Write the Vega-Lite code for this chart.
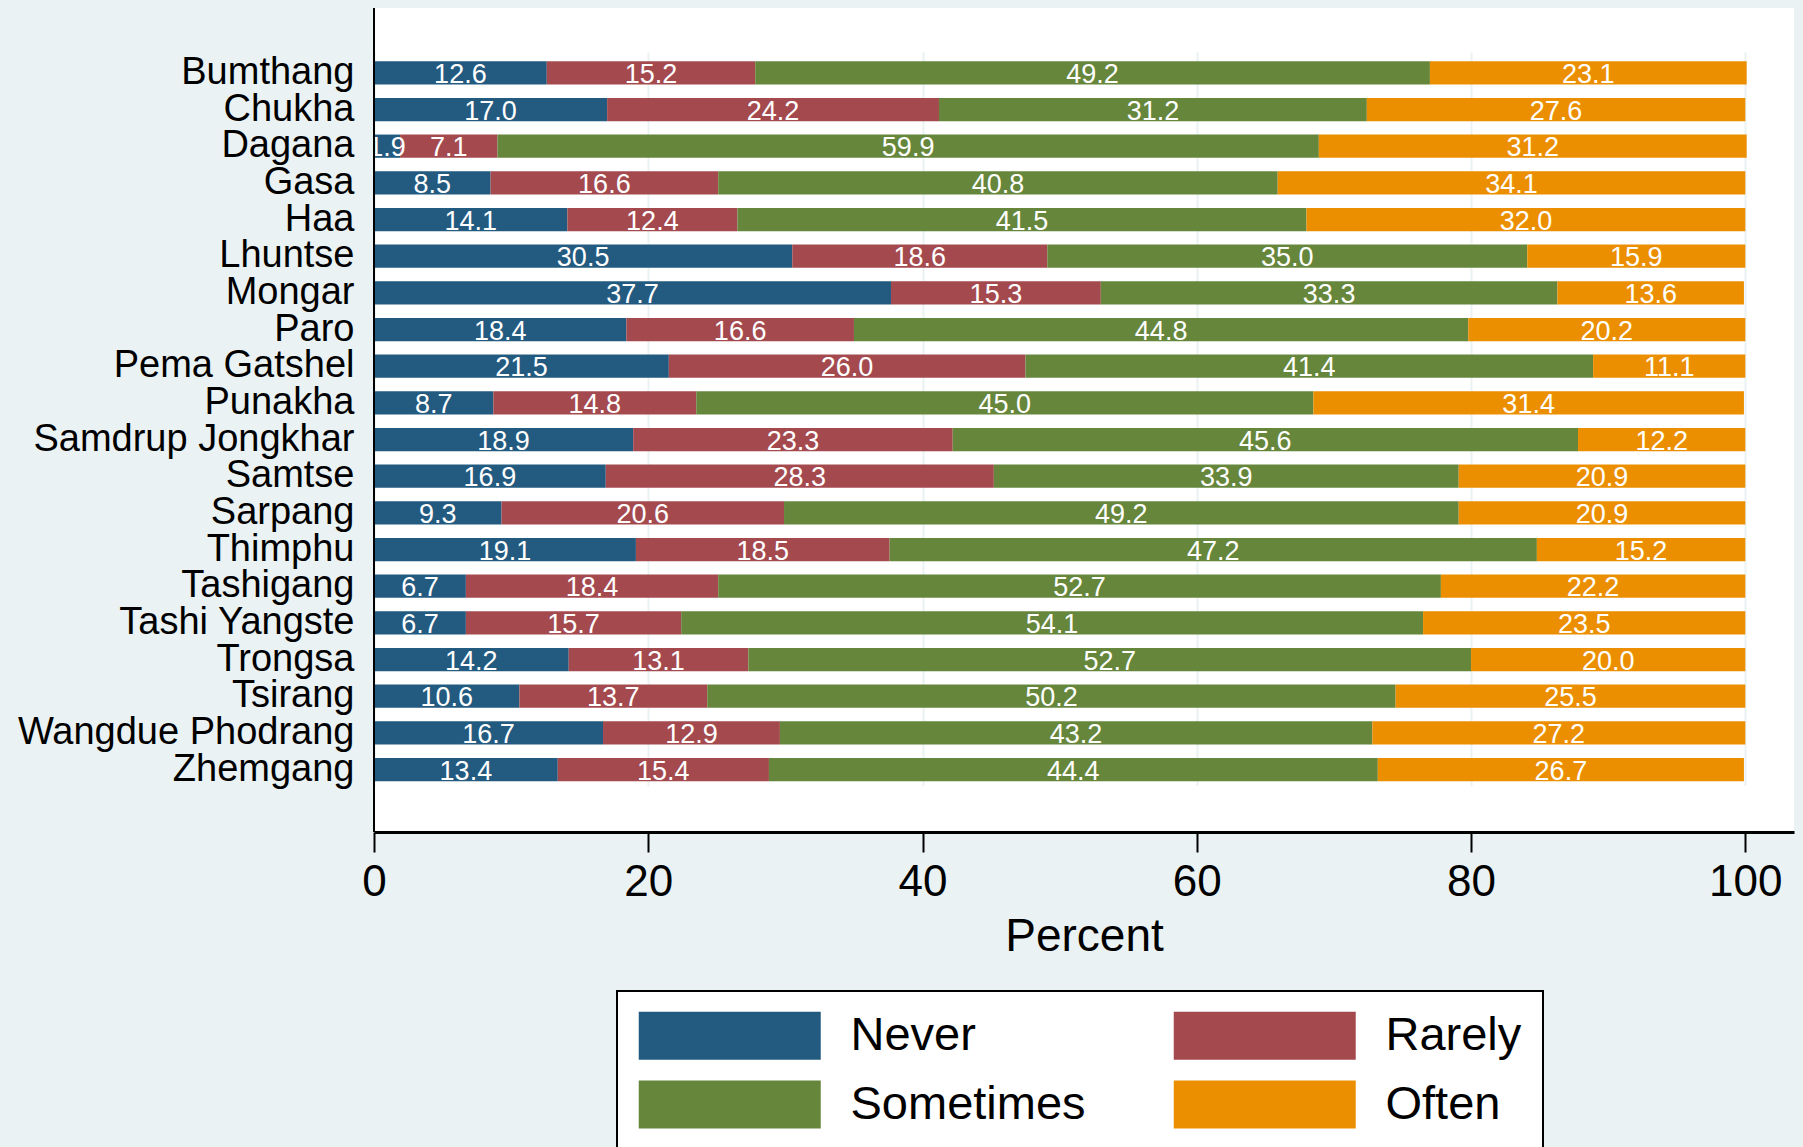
{
  "$schema": "https://vega.github.io/schema/vega-lite/v6.json",
  "autosize": {"type": "none"},
  "width": 1420,
  "height": 824,
  "padding": {"left": 374, "top": 8, "right": 9, "bottom": 315},
  "background": "#eaf2f3",
  "config": {
    "font": "Liberation Sans",
    "view": {"fill": "white", "stroke": null},
    "legend": {"strokeWidth": 2}
  },
  "data": {"values": [
    {"district": "Bumthang", "response": "Never", "value": 12.6},
    {"district": "Bumthang", "response": "Rarely", "value": 15.2},
    {"district": "Bumthang", "response": "Sometimes", "value": 49.2},
    {"district": "Bumthang", "response": "Often", "value": 23.1},
    {"district": "Chukha", "response": "Never", "value": 17.0},
    {"district": "Chukha", "response": "Rarely", "value": 24.2},
    {"district": "Chukha", "response": "Sometimes", "value": 31.2},
    {"district": "Chukha", "response": "Often", "value": 27.6},
    {"district": "Dagana", "response": "Never", "value": 1.9},
    {"district": "Dagana", "response": "Rarely", "value": 7.1},
    {"district": "Dagana", "response": "Sometimes", "value": 59.9},
    {"district": "Dagana", "response": "Often", "value": 31.2},
    {"district": "Gasa", "response": "Never", "value": 8.5},
    {"district": "Gasa", "response": "Rarely", "value": 16.6},
    {"district": "Gasa", "response": "Sometimes", "value": 40.8},
    {"district": "Gasa", "response": "Often", "value": 34.1},
    {"district": "Haa", "response": "Never", "value": 14.1},
    {"district": "Haa", "response": "Rarely", "value": 12.4},
    {"district": "Haa", "response": "Sometimes", "value": 41.5},
    {"district": "Haa", "response": "Often", "value": 32.0},
    {"district": "Lhuntse", "response": "Never", "value": 30.5},
    {"district": "Lhuntse", "response": "Rarely", "value": 18.6},
    {"district": "Lhuntse", "response": "Sometimes", "value": 35.0},
    {"district": "Lhuntse", "response": "Often", "value": 15.9},
    {"district": "Mongar", "response": "Never", "value": 37.7},
    {"district": "Mongar", "response": "Rarely", "value": 15.3},
    {"district": "Mongar", "response": "Sometimes", "value": 33.3},
    {"district": "Mongar", "response": "Often", "value": 13.6},
    {"district": "Paro", "response": "Never", "value": 18.4},
    {"district": "Paro", "response": "Rarely", "value": 16.6},
    {"district": "Paro", "response": "Sometimes", "value": 44.8},
    {"district": "Paro", "response": "Often", "value": 20.2},
    {"district": "Pema Gatshel", "response": "Never", "value": 21.5},
    {"district": "Pema Gatshel", "response": "Rarely", "value": 26.0},
    {"district": "Pema Gatshel", "response": "Sometimes", "value": 41.4},
    {"district": "Pema Gatshel", "response": "Often", "value": 11.1},
    {"district": "Punakha", "response": "Never", "value": 8.7},
    {"district": "Punakha", "response": "Rarely", "value": 14.8},
    {"district": "Punakha", "response": "Sometimes", "value": 45.0},
    {"district": "Punakha", "response": "Often", "value": 31.4},
    {"district": "Samdrup Jongkhar", "response": "Never", "value": 18.9},
    {"district": "Samdrup Jongkhar", "response": "Rarely", "value": 23.3},
    {"district": "Samdrup Jongkhar", "response": "Sometimes", "value": 45.6},
    {"district": "Samdrup Jongkhar", "response": "Often", "value": 12.2},
    {"district": "Samtse", "response": "Never", "value": 16.9},
    {"district": "Samtse", "response": "Rarely", "value": 28.3},
    {"district": "Samtse", "response": "Sometimes", "value": 33.9},
    {"district": "Samtse", "response": "Often", "value": 20.9},
    {"district": "Sarpang", "response": "Never", "value": 9.3},
    {"district": "Sarpang", "response": "Rarely", "value": 20.6},
    {"district": "Sarpang", "response": "Sometimes", "value": 49.2},
    {"district": "Sarpang", "response": "Often", "value": 20.9},
    {"district": "Thimphu", "response": "Never", "value": 19.1},
    {"district": "Thimphu", "response": "Rarely", "value": 18.5},
    {"district": "Thimphu", "response": "Sometimes", "value": 47.2},
    {"district": "Thimphu", "response": "Often", "value": 15.2},
    {"district": "Tashigang", "response": "Never", "value": 6.7},
    {"district": "Tashigang", "response": "Rarely", "value": 18.4},
    {"district": "Tashigang", "response": "Sometimes", "value": 52.7},
    {"district": "Tashigang", "response": "Often", "value": 22.2},
    {"district": "Tashi Yangste", "response": "Never", "value": 6.7},
    {"district": "Tashi Yangste", "response": "Rarely", "value": 15.7},
    {"district": "Tashi Yangste", "response": "Sometimes", "value": 54.1},
    {"district": "Tashi Yangste", "response": "Often", "value": 23.5},
    {"district": "Trongsa", "response": "Never", "value": 14.2},
    {"district": "Trongsa", "response": "Rarely", "value": 13.1},
    {"district": "Trongsa", "response": "Sometimes", "value": 52.7},
    {"district": "Trongsa", "response": "Often", "value": 20.0},
    {"district": "Tsirang", "response": "Never", "value": 10.6},
    {"district": "Tsirang", "response": "Rarely", "value": 13.7},
    {"district": "Tsirang", "response": "Sometimes", "value": 50.2},
    {"district": "Tsirang", "response": "Often", "value": 25.5},
    {"district": "Wangdue Phodrang", "response": "Never", "value": 16.7},
    {"district": "Wangdue Phodrang", "response": "Rarely", "value": 12.9},
    {"district": "Wangdue Phodrang", "response": "Sometimes", "value": 43.2},
    {"district": "Wangdue Phodrang", "response": "Often", "value": 27.2},
    {"district": "Zhemgang", "response": "Never", "value": 13.4},
    {"district": "Zhemgang", "response": "Rarely", "value": 15.4},
    {"district": "Zhemgang", "response": "Sometimes", "value": 44.4},
    {"district": "Zhemgang", "response": "Often", "value": 26.7}
  ]},
  "layer": [
    {
      "transform": [
        {"calculate": "indexof(['Never','Rarely','Sometimes','Often'], datum.response)", "as": "ord"},
        {"stack": "value", "groupby": ["district"], "sort": [{"field": "ord", "order": "ascending"}], "as": ["x0", "x1"]}
      ],
      "mark": {"type": "bar"},
      "encoding": {
        "y": {
          "field": "district", "type": "nominal", "sort": null,
          "scale": {"range": [46.5, 779.9], "paddingInner": 0.366, "paddingOuter": 0.183},
          "axis": {
            "title": null, "ticks": false, "grid": false, "domain": false,
            "labelFontSize": 38, "labelColor": "black", "labelPadding": 20, "labelLimit": 400
          }
        },
        "x": {
          "field": "x0", "type": "quantitative",
          "scale": {"domain": [0, 103.55], "nice": false, "zero": true},
          "axis": {
            "title": "Percent", "titleFontSize": 46, "titleFontWeight": "normal", "titleColor": "black", "titlePadding": 10,
            "values": [0, 20, 40, 60, 80, 100],
            "labelFontSize": 44, "labelColor": "black", "labelPadding": 8, "labelFlush": false,
            "domainColor": "black", "domainWidth": 3,
            "tickColor": "black", "tickWidth": 2, "tickSize": 20,
            "grid": true, "gridColor": "#eaf2f3", "gridWidth": 2
          }
        },
        "x2": {"field": "x1"},
        "color": {
          "field": "response", "type": "nominal",
          "scale": {"domain": ["Never", "Rarely", "Sometimes", "Often"], "range": ["#235a80", "#a44a4f", "#66863c", "#eb8f00"]},
          "legend": {
            "title": null, "orient": "none", "legendX": 243, "legendY": 983,
            "direction": "horizontal", "columns": 2,
            "symbolType": "M-1,-1.055L7,-1.055L7,1.055L-1,1.055Z", "symbolSize": 2070,
            "symbolStrokeWidth": 0, "symbolOpacity": 1,
            "labelFontSize": 47, "labelColor": "black", "labelOffset": 165.5, "labelLimit": 400,
            "columnPadding": 87, "rowPadding": 20,
            "padding": 21, "strokeColor": "black", "fillColor": "white"
          }
        }
      }
    },
    {
      "transform": [
        {"calculate": "indexof(['Never','Rarely','Sometimes','Often'], datum.response)", "as": "ord"},
        {"stack": "value", "groupby": ["district"], "sort": [{"field": "ord", "order": "ascending"}], "as": ["x0", "x1"]},
        {"calculate": "(datum.x0 + datum.x1) / 2", "as": "mid"}
      ],
      "mark": {"type": "text", "color": "white", "fontSize": 27, "baseline": "middle", "align": "center", "dy": 2, "clip": true},
      "encoding": {
        "y": {"field": "district", "type": "nominal", "sort": null},
        "x": {"field": "mid", "type": "quantitative"},
        "text": {"field": "value", "type": "quantitative", "format": ".1f"}
      }
    },
    {
      "data": {"values": [{"x": 0}]},
      "mark": {"type": "rule", "color": "black", "strokeWidth": 2},
      "encoding": {
        "x": {"field": "x", "type": "quantitative"}
      }
    }
  ]
}
